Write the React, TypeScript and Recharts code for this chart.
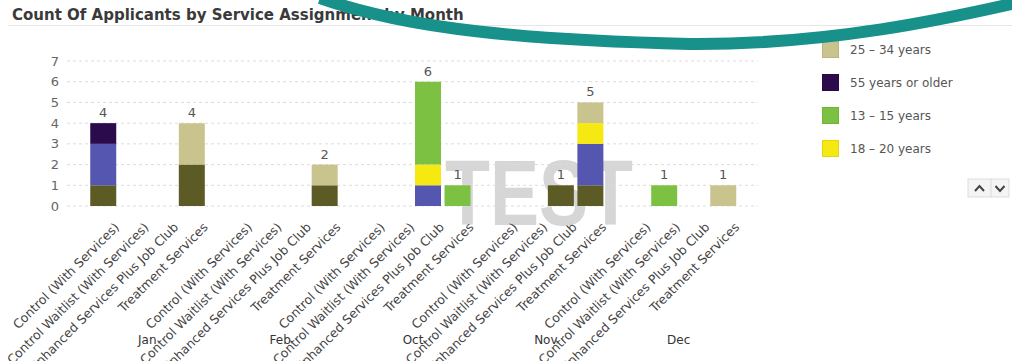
import React from "react";
import { BarChart, Bar, XAxis, YAxis, CartesianGrid, LabelList } from "recharts";

const months = ["Jan", "Feb", "Oct", "Nov", "Dec"];
const services = [
  "Control (With Services)",
  "Control Waitlist (With Services)",
  "Enhanced Services Plus Job Club",
  "Treatment Services",
];

// one value per month x service: Jan C/W/E/T, Feb C/W/E/T, Oct ..., Nov ..., Dec ...
const age21to24 = [1, 0, 0, 2, 0, 0, 0, 1, 0, 0, 0, 0, 0, 0, 1, 1, 0, 0, 0, 0];
const age35to54 = [2, 0, 0, 0, 0, 0, 0, 0, 0, 0, 1, 0, 0, 0, 0, 2, 0, 0, 0, 0];
const age18to20 = [0, 0, 0, 0, 0, 0, 0, 0, 0, 0, 1, 0, 0, 0, 0, 1, 0, 0, 0, 0];
const age13to15 = [0, 0, 0, 0, 0, 0, 0, 0, 0, 0, 4, 1, 0, 0, 0, 0, 0, 1, 0, 0];
const age25to34 = [0, 0, 0, 2, 0, 0, 0, 1, 0, 0, 0, 0, 0, 0, 0, 1, 0, 0, 0, 1];
const age55plus = [1, 0, 0, 0, 0, 0, 0, 0, 0, 0, 0, 0, 0, 0, 0, 0, 0, 0, 0, 0];

const yTicks = [0, 1, 2, 3, 4, 5, 6, 7];

// stacked bottom -> top
const series = [
  { key: "a21", name: "21 – 24 years", color: "#5c5b26", values: age21to24 },
  { key: "a35", name: "35 – 54 years", color: "#5556b0", values: age35to54 },
  { key: "a18", name: "18 – 20 years", color: "#f6e912", values: age18to20 },
  { key: "a13", name: "13 – 15 years", color: "#7cc142", values: age13to15 },
  { key: "a25", name: "25 – 34 years", color: "#c9c48e", values: age25to34 },
  { key: "a55", name: "55 years or older", color: "#2b0b4c", values: age55plus },
];

// legend is scrolled, only these entries are visible
const legendVisible = ["a25", "a55", "a13", "a18"];

const GROUP_STRIDE = 4.5;
const FONT = "'DejaVu Sans', Verdana, sans-serif";

const rows = months.flatMap((month, mi) =>
  services.map((service, si) => {
    const i = mi * services.length + si;
    const row: Record<string, any> = { x: mi * GROUP_STRIDE + si, month, service, total: 0 };
    let topKey = "";
    series.forEach((s) => {
      row[s.key] = s.values[i];
      row.total += s.values[i];
      if (s.values[i] > 0) topKey = s.key;
    });
    // total shown above whichever series ends the stack
    series.forEach((s) => {
      row[s.key + "Total"] = s.key === topKey ? row.total : null;
    });
    return row;
  })
);

const serviceTicks = rows.map((r) => r.x);
const monthTicks = months.map((_, mi) => mi * GROUP_STRIDE + (services.length - 1) / 2);

const ServiceTick = (props: any) => {
  const { x, y, payload } = props;
  const row = rows.find((r) => r.x === payload.value);
  return (
    <text
      transform={`translate(${x + 17},${y + 14}) rotate(-45)`}
      textAnchor="end"
      fontSize={12.5}
      fontFamily={FONT}
      fill="#444"
    >
      {row ? row.service : ""}
    </text>
  );
};

export default function App() {
  return (
    <div
      style={{
        position: "absolute",
        left: 0,
        top: 0,
        width: 1012,
        height: 361,
        overflow: "hidden",
        background: "#fff",
        fontFamily: FONT,
      }}
    >
      <svg width={1012} height={361} style={{ position: "absolute", left: 0, top: 0 }}>
        <text x={12} y={20} fontSize={15} fontWeight="bold" fill="#3a3a3a" fontFamily={FONT}>
          Count Of Applicants by Service Assignment by Month
        </text>
        <line x1={8} x2={1012} y1={25.5} y2={25.5} stroke="#e6e6e6" />
        <text
          x={445}
          y={225}
          fontSize={93}
          fontWeight="bold"
          fontFamily="'Liberation Sans', Arial, sans-serif"
          textLength={188}
          lengthAdjust="spacingAndGlyphs"
          fill="#d6d6d6"
        >
          TEST
        </text>
      </svg>

      <div style={{ position: "absolute", left: 0, top: 0 }}>
        <BarChart
          width={1012}
          height={361}
          data={rows}
          margin={{ top: 61, right: 254, left: 37, bottom: 4 }}
        >
          <CartesianGrid vertical={false} stroke="#dcdcdc" strokeDasharray="3 3" />
          <XAxis
            dataKey="x"
            type="number"
            domain={[0, 21]}
            ticks={serviceTicks}
            interval={0}
            padding={{ left: 36, right: 35 }}
            axisLine={false}
            tickLine={false}
            height={121}
            tick={<ServiceTick />}
          />
          <XAxis
            xAxisId="month"
            dataKey="x"
            type="number"
            domain={[0, 21]}
            ticks={monthTicks}
            interval={0}
            padding={{ left: 36, right: 35 }}
            axisLine={false}
            tickLine={false}
            height={30}
            tickFormatter={(v: number) => months[Math.round((v - 1.5) / GROUP_STRIDE)]}
            tick={{ fontSize: 12, fill: "#333", fontFamily: FONT }}
          />
          <YAxis
            domain={[0, 7]}
            ticks={yTicks}
            interval={0}
            width={30}
            axisLine={false}
            tickLine={false}
            tick={{ fontSize: 13, fill: "#666", fontFamily: FONT }}
          />
          {series.map((s) => (
            <Bar
              key={s.key}
              dataKey={s.key}
              name={s.name}
              stackId="a"
              fill={s.color}
              barSize={26}
              isAnimationActive={false}
            >
              <LabelList
                dataKey={s.key + "Total"}
                position="top"
                offset={6}
                formatter={(v: any) => (v ? v : "")}
                style={{ fontSize: 13, fill: "#555", fontFamily: FONT }}
              />
            </Bar>
          ))}
        </BarChart>
      </div>

      {legendVisible.map((k, i) => {
        const s = series.find((d) => d.key === k)!;
        return (
          <div
            key={k}
            style={{
              position: "absolute",
              left: 822,
              top: 41 + i * 33,
              height: 17,
              display: "flex",
              alignItems: "center",
              fontSize: 12,
              color: "#555",
            }}
          >
            <span
              style={{
                width: 17,
                height: 17,
                background: s.color,
                display: "inline-block",
                marginRight: 11,
                boxSizing: "border-box",
                border: "1px solid rgba(0,0,0,0.08)",
              }}
            />
            {s.name}
          </div>
        );
      })}

      <svg width={44} height={22} style={{ position: "absolute", left: 966, top: 178 }}>
        <rect x={2} y={1} width={23} height={18} fill="#f4f4f4" stroke="#ddd" />
        <rect x={25} y={1} width={18} height={18} fill="#f4f4f4" stroke="#ddd" />
        <polyline points="9,13 13.5,8 18,13" fill="none" stroke="#444" strokeWidth={2} />
        <polyline points="29.5,8 34,13 38.5,8" fill="none" stroke="#444" strokeWidth={2} />
      </svg>

      <svg
        width={1012}
        height={361}
        style={{ position: "absolute", left: 0, top: 0, pointerEvents: "none" }}
      >
        <path
          d="M 320 -2 C 410 30, 530 40, 690 44 C 830 45, 950 18, 1020 2"
          fill="none"
          stroke="#17918a"
          strokeWidth={12}
        />
      </svg>
    </div>
  );
}
